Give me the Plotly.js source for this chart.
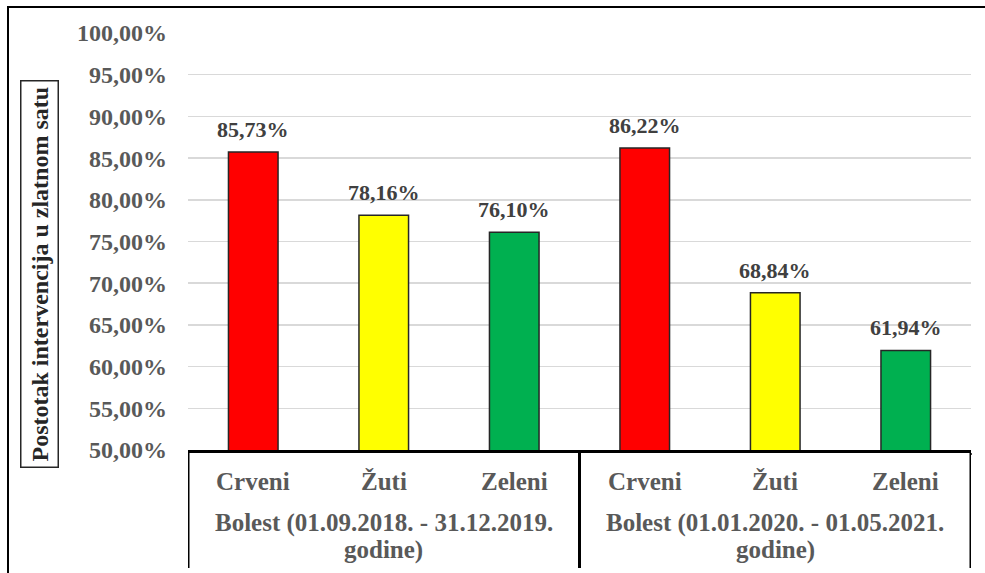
<!DOCTYPE html>
<html>
<head>
<meta charset="utf-8">
<script src="https://cdn.plot.ly/plotly-3.0.1.min.js"></script>
<style>
  html, body { margin: 0; padding: 0; background: #fff; overflow: hidden; }
  #chart { width: 985px; height: 573px; }
</style>
</head>
<body>
<div id="chart"></div>
<script>
// ---- data ----
const groupLine1 = ["Bolest (01.09.2018. - 31.12.2019.", "Bolest (01.01.2020. - 01.05.2021."];
const groupLine2 = ["godine)", "godine)"];
const groupOfBar = [0, 0, 0, 1, 1, 1];
const categories = ["Crveni", "Žuti", "Zeleni", "Crveni", "Žuti", "Zeleni"];
const values = [85.73, 78.16, 76.10, 86.22, 68.84, 61.94];
const barColors = ["#FF0000", "#FFFF00", "#00B050", "#FF0000", "#FFFF00", "#00B050"];
const yTitle = "Postotak intervencija u zlatnom satu";

const serif = "Liberation Serif";

const groupKeys = groupOfBar.map(g => groupLine1[g] + " " + groupLine2[g]);

const trace = {
  type: "bar",
  x: [groupKeys, categories],
  y: values,
  marker: { color: barColors, line: { color: "#262626", width: 1.5 } },
  hoverinfo: "skip"
};

const L = 188, R = 14, T = 33, B = 123;
const W = 985, H = 573;
const pw = W - L - R, ph = H - T - B;
const px = v => (v - L) / pw;
const py = v => (H - B - v) / ph;

const annotations = [];
// data labels
values.forEach((v, i) => {
  annotations.push({
    xref: "x", yref: "y", x: i, y: v,
    xanchor: "center", yanchor: "bottom", yshift: 8,
    text: v.toFixed(2).replace(".", ",") + "%",
    showarrow: false,
    font: { family: serif, size: 22, color: "#404040", weight: "bold" }
  });
});
// category labels
categories.forEach((c, i) => {
  annotations.push({
    xref: "x", yref: "paper", x: i, y: py(481),
    xanchor: "center", yanchor: "middle",
    text: c, showarrow: false,
    font: { family: serif, size: 25, color: "#595959", weight: "bold" }
  });
});
// group labels
[0, 1].forEach(g => {
  const idx = groupOfBar.map((gg, i) => gg === g ? i : null).filter(i => i !== null);
  const cx = (idx[0] + idx[idx.length - 1]) / 2;
  annotations.push({
    xref: "x", yref: "paper", x: cx, y: py(523),
    xanchor: "center", yanchor: "middle",
    text: groupLine1[g], showarrow: false,
    font: { family: serif, size: 25, color: "#595959", weight: "bold" }
  });
  annotations.push({
    xref: "x", yref: "paper", x: cx, y: py(550),
    xanchor: "center", yanchor: "middle",
    text: groupLine2[g], showarrow: false,
    font: { family: serif, size: 25, color: "#595959", weight: "bold" }
  });
});
// y title in a box
annotations.push({
  xref: "paper", yref: "paper",
  x: px(39), y: py(274),
  xanchor: "center", yanchor: "middle",
  text: yTitle, textangle: -90, showarrow: false,
  font: { family: serif, size: 24, color: "#262626", weight: "bold" },
  bordercolor: "#262626", borderwidth: 1.5, borderpad: 5,
  bgcolor: "#fff"
});

// group dividers (boundaries between the bar groups)
const shapes = [];
const bounds = [-0.5, 2.5, 5.5];
bounds.forEach(b => {
  shapes.push({
    type: "line", xref: "x", yref: "paper",
    x0: b, x1: b, y0: py(568), y1: 0,
    line: { color: "#000", width: 3 }
  });
});
// outer frame
shapes.push({
  type: "rect", xref: "paper", yref: "paper",
  x0: px(8), y0: py(640), x1: px(1040), y1: py(7),
  line: { color: "#000", width: 2 }, fillcolor: "rgba(0,0,0,0)", layer: "below"
});

const layout = {
  width: W, height: H,
  margin: { l: L, r: R, t: T, b: B, pad: 0 },
  paper_bgcolor: "#fff",
  plot_bgcolor: "#fff",
  separators: ", ",
  showlegend: false,
  bargap: 0.62,
  xaxis: {
    type: "multicategory",
    range: [-0.5, 5.5],
    showline: true, linecolor: "#000", linewidth: 3,
    showgrid: false, ticks: "", showticklabels: false,
    fixedrange: true
  },
  yaxis: {
    range: [50, 100],
    dtick: 5,
    tickformat: ".2f",
    ticksuffix: "%",
    showgrid: true, gridcolor: "#D9D9D9", gridwidth: 1.5,
    zeroline: false, showline: false, ticks: "",
    ticklabelstandoff: 20,
    tickfont: { family: serif, size: 24, color: "#595959", weight: "bold" },
    fixedrange: true
  },
  annotations: annotations,
  shapes: shapes
};

Plotly.newPlot("chart", [trace], layout, { displayModeBar: false, staticPlot: true });
</script>
</body>
</html>
